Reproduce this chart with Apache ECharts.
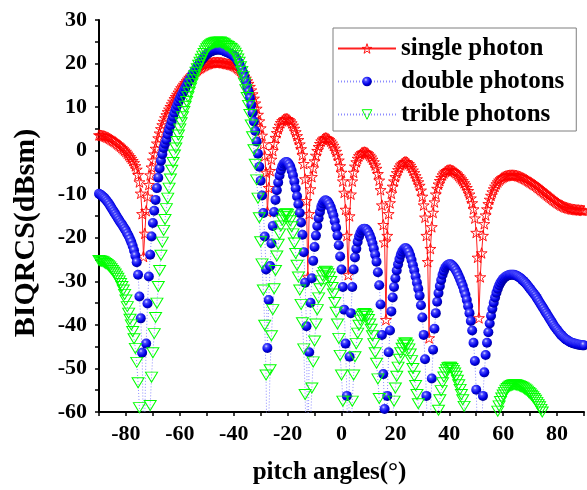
<!DOCTYPE html>
<html>
<head>
<meta charset="utf-8">
<script src="https://cdn.jsdelivr.net/npm/echarts@6/dist/echarts.min.js"></script>
<style>
  html, body { margin: 0; padding: 0; background: #ffffff; }
  #chart { width: 587px; height: 490px; }
</style>
</head>
<body>
<div id="chart"></div>
<script>
// pitch-angle sampling: -90 .. 90 degrees in half-degree steps
const angleStart = -90;
const angleStep = 0.5;

// BIQRCS (dBsm), one row = 5 degrees
const singlePhoton = [
  3.6, 3.55, 3.5, 3.45, 3.35, 3.25, 3.1, 2.95, 2.8, 2.6,
  2.4, 2.2, 2.0, 1.75, 1.5, 1.25, 1.0, 0.7, 0.4, 0.1,
  -0.2, -0.6, -1.0, -1.4, -1.8, -2.3, -2.8, -3.5, -4.3, -5.5,
  -7.2, -9.8, -14.5, -24.3, -19.0, -13.8, -10.5, -7.8, -5.6, -3.8,
  -2.2, -0.8, 0.5, 1.7, 2.9, 4.0, 5.0, 5.9, 6.7, 7.5,
  8.2, 8.9, 9.5, 10.1, 10.7, 11.3, 11.9, 12.4, 12.9, 13.4,
  13.9, 14.4, 14.8, 15.2, 15.6, 16.0, 16.4, 16.8, 17.1, 17.4,
  17.7, 18.0, 18.3, 18.55, 18.8, 19.0, 19.2, 19.4, 19.55, 19.7,
  19.85, 19.95, 20.05, 20.15, 20.2, 20.25, 20.3, 20.3, 20.3, 20.3,
  20.25, 20.2, 20.15, 20.1, 20.0, 19.95, 19.9, 19.8, 19.75, 19.65,
  19.55, 19.4, 19.2, 18.95, 18.7, 18.35, 18.0, 17.6, 17.1, 16.6,
  16.0, 15.4, 14.7, 13.9, 13.0, 12.0, 10.9, 9.7, 8.3, 6.8,
  5.2, 3.5, 1.5, -1.2, -5.0, -14.0, -8.5, -4.6, -2.0, 0.0,
  1.6, 3.0, 4.1, 5.0, 5.8, 6.4, 6.85, 7.15, 7.3, 7.35,
  7.3, 7.1, 6.8, 6.35, 5.8, 5.1, 4.3, 3.4, 2.5, 1.5,
  0.4, -1.0, -3.0, -6.5, -11.5, -29.0, -14.5, -8.8, -6.0, -4.0,
  -2.4, -1.1, 0.0, 0.9, 1.6, 2.2, 2.6, 2.85, 2.95, 2.9,
  2.75, 2.5, 2.15, 1.7, 1.2, 0.55, -0.2, -1.1, -2.2, -3.5,
  -5.0, -7.0, -9.6, -13.5, -19.5, -28.5, -15.0, -10.0, -7.0, -5.0,
  -3.6, -2.6, -1.8, -1.2, -0.8, -0.5, -0.35, -0.3, -0.35, -0.5,
  -0.75, -1.1, -1.5, -2.0, -2.6, -3.3, -4.1, -5.3, -6.8, -9.0,
  -12.5, -17.0, -21.0, -38.8, -19.5, -14.5, -12.0, -9.8, -8.2, -7.0,
  -6.0, -5.1, -4.4, -3.8, -3.3, -2.95, -2.7, -2.55, -2.55, -2.7,
  -3.0, -3.4, -3.9, -4.5, -5.1, -5.8, -6.5, -7.2, -8.0, -9.1,
  -10.5, -12.5, -15.3, -19.5, -25.5, -43.0, -22.5, -17.5, -14.2, -11.8,
  -10.0, -8.7, -7.7, -6.9, -6.2, -5.6, -5.15, -4.8, -4.6, -4.45,
  -4.4, -4.4, -4.5, -4.65, -4.85, -5.1, -5.4, -5.75, -6.1, -6.5,
  -6.9, -7.4, -7.9, -8.5, -9.2, -10.0, -10.9, -12.0, -13.4, -15.5,
  -18.8, -24.5, -38.4, -29.0, -23.5, -19.5, -16.8, -14.8, -13.4, -12.2,
  -11.2, -10.3, -9.5, -8.8, -8.2, -7.65, -7.2, -6.8, -6.5, -6.25,
  -6.05, -5.9, -5.8, -5.7, -5.65, -5.6, -5.6, -5.6, -5.6, -5.65,
  -5.7, -5.8, -5.9, -6.0, -6.15, -6.3, -6.45, -6.6, -6.8, -7.0,
  -7.2, -7.4, -7.6, -7.8, -8.0, -8.25, -8.5, -8.75, -9.0, -9.25,
  -9.5, -9.75, -10.0, -10.25, -10.5, -10.75, -11.0, -11.25, -11.5, -11.7,
  -11.9, -12.1, -12.3, -12.5, -12.65, -12.8, -12.95, -13.05, -13.15, -13.25,
  -13.35, -13.4, -13.45, -13.5, -13.55, -13.6, -13.6, -13.65, -13.65, -13.7,
  -13.7
];

const doublePhotons = [
  -9.9, -10.1, -10.3, -10.6, -10.9, -11.2, -11.6, -12.0, -12.5, -13.0,
  -13.5, -14.0, -14.5, -15.0, -15.5, -16.0, -16.5, -16.9, -17.4, -17.9,
  -18.4, -19.0, -19.6, -20.3, -21.0, -21.9, -22.9, -24.1, -25.6, -28.5,
  -33.5, -38.5, -46.4, -66.0, -61.0, -44.3, -35.1, -28.9, -23.9, -19.7,
  -16.6, -13.8, -11.3, -8.6, -6.2, -4.1, -2.3, -0.8, 0.6, 1.6,
  2.5, 3.7, 4.8, 5.8, 6.8, 7.8, 8.7, 9.6, 10.4, 11.2,
  11.9, 12.6, 13.2, 13.8, 14.4, 15.0, 15.6, 16.2, 16.7, 17.3,
  17.8, 18.3, 18.8, 19.3, 19.8, 20.3, 20.7, 21.1, 21.5, 21.85,
  22.15, 22.4, 22.6, 22.75, 22.9, 23.0, 23.1, 23.2, 23.2, 23.2,
  23.2, 23.1, 23.0, 22.9, 22.7, 22.6, 22.5, 22.3, 22.2, 22.0,
  21.8, 21.5, 21.1, 20.6, 20.1, 19.4, 18.7, 17.9, 16.9, 15.9,
  14.7, 13.5, 12.1, 10.5, 8.7, 6.7, 4.5, 2.1, -0.7, -3.7,
  -6.9, -10.3, -14.3, -19.7, -27.3, -45.3, -34.3, -26.5, -21.3, -17.3,
  -14.1, -11.3, -9.1, -7.3, -5.7, -4.5, -3.6, -3.0, -2.7, -2.6,
  -2.7, -3.1, -3.7, -4.6, -5.7, -7.1, -8.7, -10.5, -12.3, -14.3,
  -16.5, -19.3, -23.3, -30.3, -40.3, -75.3, -46.3, -34.9, -29.3, -25.3,
  -22.1, -19.5, -17.3, -15.5, -14.1, -12.9, -12.1, -11.6, -11.4, -11.5,
  -11.8, -12.3, -13.0, -13.9, -14.9, -16.2, -17.7, -19.5, -21.7, -24.3,
  -27.3, -31.3, -36.5, -44.3, -56.3, -74.3, -47.3, -37.3, -31.3, -27.3,
  -24.5, -22.5, -20.9, -19.7, -18.9, -18.3, -18.0, -17.9, -18.0, -18.3,
  -18.8, -19.5, -20.3, -21.3, -22.5, -23.9, -25.5, -27.9, -30.9, -35.3,
  -42.3, -51.3, -59.3, -94.9, -56.3, -46.3, -41.3, -36.9, -33.7, -31.3,
  -29.3, -27.5, -26.1, -24.9, -23.9, -23.2, -22.7, -22.4, -22.4, -22.7,
  -23.3, -24.1, -25.1, -26.3, -27.5, -28.9, -30.3, -31.7, -33.3, -35.5,
  -38.3, -42.3, -47.9, -56.3, -68.3, -103.3, -62.3, -52.3, -45.7, -40.9,
  -37.3, -34.7, -32.7, -31.1, -29.7, -28.5, -27.6, -26.9, -26.5, -26.2,
  -26.1, -26.1, -26.3, -26.6, -27.0, -27.5, -28.1, -28.8, -29.5, -30.3,
  -31.1, -32.1, -33.1, -34.3, -35.7, -37.3, -39.1, -41.3, -44.1, -48.3,
  -54.9, -66.3, -94.1, -75.3, -64.3, -56.3, -50.9, -46.9, -44.1, -41.7,
  -39.7, -37.9, -36.3, -34.9, -33.7, -32.6, -31.7, -30.9, -30.3, -29.8,
  -29.4, -29.1, -28.9, -28.7, -28.6, -28.5, -28.5, -28.5, -28.5, -28.6,
  -28.7, -28.9, -29.1, -29.3, -29.6, -29.9, -30.2, -30.5, -30.9, -31.3,
  -31.7, -32.1, -32.5, -32.9, -33.3, -33.8, -34.3, -34.8, -35.3, -35.8,
  -36.3, -36.8, -37.3, -37.8, -38.3, -38.8, -39.3, -39.8, -40.3, -40.7,
  -41.1, -41.5, -41.9, -42.3, -42.6, -42.9, -43.2, -43.4, -43.6, -43.8,
  -44.0, -44.1, -44.2, -44.3, -44.4, -44.5, -44.5, -44.6, -44.6, -44.7,
  -44.7
];

const triblePhotons = [
  -25.2, -25.3, -25.4, -25.5, -25.7, -25.9, -26.1, -26.4, -26.7, -27.1,
  -27.5, -27.9, -28.3, -28.8, -29.3, -29.9, -30.5, -31.2, -32.0, -33.0,
  -34.3, -35.8, -37.3, -38.7, -40.0, -41.5, -43.2, -45.4, -48.6, -53.3,
  -59.0, -66.0, -79.0, -108.0, -92.0, -78.0, -70.0, -64.0, -58.5, -52.0,
  -46.4, -42.0, -38.3, -35.0, -31.2, -27.5, -24.0, -21.0, -18.3, -15.8,
  -13.3, -10.9, -8.6, -6.5, -4.5, -2.7, -1.0, 0.6, 2.1, 3.6,
  5.0, 6.4, 7.8, 9.0, 10.2, 11.3, 12.4, 13.4, 14.4, 15.4,
  16.3, 17.2, 18.0, 18.8, 19.6, 20.3, 21.0, 21.7, 22.3, 22.9,
  23.4, 23.8, 24.1, 24.35, 24.55, 24.7, 24.8, 24.9, 24.9, 24.9,
  24.95, 24.8, 24.65, 24.5, 24.2, 24.05, 23.9, 23.6, 23.45, 23.15,
  22.85, 22.4, 21.8, 21.05, 20.3, 19.25, 18.2, 17.0, 15.5, 14.0,
  12.2, 10.4, 8.3, 5.9, 3.2, 0.2, -3.1, -6.7, -10.9, -15.4,
  -20.9, -26.0, -32.0, -40.1, -51.5, -78.5, -62.0, -50.3, -42.5, -36.5,
  -31.7, -27.5, -24.2, -21.5, -19.1, -17.3, -15.95, -15.05, -14.6, -14.45,
  -14.6, -15.2, -16.1, -17.45, -19.1, -21.2, -23.6, -26.3, -29.0, -32.0,
  -35.3, -39.5, -45.5, -56.0, -71.0, -123.5, -80.0, -62.9, -54.5, -48.5,
  -43.7, -39.8, -36.5, -33.8, -31.7, -29.9, -28.7, -27.95, -27.65, -27.8,
  -28.25, -29.0, -30.05, -31.4, -32.9, -34.85, -37.1, -39.8, -43.1, -47.0,
  -51.5, -57.5, -65.3, -77.0, -95.0, -122.0, -81.5, -66.5, -57.5, -51.5,
  -47.3, -44.3, -41.9, -40.1, -38.9, -38.0, -37.55, -37.4, -37.55, -38.0,
  -38.75, -39.8, -41.0, -42.5, -44.3, -46.4, -48.8, -52.4, -56.9, -63.5,
  -74.0, -87.5, -99.5, -152.9, -95.0, -80.0, -72.5, -65.9, -61.1, -57.5,
  -54.5, -51.8, -49.7, -47.9, -46.4, -45.35, -44.6, -44.15, -44.15, -44.6,
  -45.5, -46.7, -48.2, -50.0, -51.8, -53.9, -56.0, -58.1, -60.5, -63.8,
  -68.0, -74.0, -82.4, -95.0, -113.0, -165.5, -104.0, -89.0, -79.1, -71.9,
  -66.5, -62.6, -59.6, -57.2, -55.1, -53.3, -51.95, -50.9, -50.3, -49.85,
  -49.7, -49.7, -50.0, -50.45, -51.05, -51.8, -52.7, -53.75, -54.8, -56.0,
  -57.2, -58.7, -60.2, -62.0, -64.1, -66.5, -69.2, -72.5, -76.7, -83.0,
  -92.9, -110.0, -151.7, -123.5, -107.0, -95.0, -86.9, -80.9, -76.7, -73.1,
  -70.0, -67.5, -65.3, -63.5, -62.0, -60.8, -59.8, -58.6, -57.6, -56.8,
  -56.1, -55.5, -55.0, -54.6, -54.3, -54.1, -53.9, -53.8, -53.75, -53.75,
  -53.8, -53.9, -54.0, -54.15, -54.3, -54.5, -54.7, -54.95, -55.2, -55.5,
  -55.8, -56.15, -56.5, -56.9, -57.3, -57.8, -58.3, -58.8, -59.4, -60.0,
  -60.6, -61.2, -61.8, -62.4, -63.0, -63.6, -64.2, -64.8, -65.4, -66.0,
  -66.6, -67.2, -67.8, -68.4, -69.0, -69.5, -70.0, -70.5, -71.0, -71.4,
  -71.8, -72.2, -72.6, -73.0, -73.3, -73.6, -73.9, -74.2, -74.4, -74.6,
  -74.8
];

const seriesNames = ['single photon', 'double photons', 'trible photons'];
const xLabelStep = 20;   // labelled ticks every 20 degrees, plain ticks every 10

const toPoints = (values) => values.map((v, i) => [angleStart + i * angleStep, v]);

const serif = 'Liberation Serif, Times New Roman, serif';
const starPath = 'path://M50,0 L61.8,35.1 L97.6,35.1 L68.5,56.7 L79.4,91 L50,70 L20.6,91 L31.5,56.7 L2.4,35.1 L38.2,35.1 Z';
const downTriangle = 'path://M0,0 L20,0 L10,17 Z';

const hollowStar = { color: 'rgba(255,255,255,0)', borderColor: '#ff0000', borderWidth: 0.9 };
const hollowTriangle = { color: 'rgba(255,255,255,0)', borderColor: '#00ff00', borderWidth: 1 };
const shadedBall = {
  color: {
    type: 'radial', x: 0.38, y: 0.32, r: 0.68,
    colorStops: [
      { offset: 0, color: '#d8d8ff' },
      { offset: 0.25, color: '#4848ff' },
      { offset: 0.7, color: '#0000e6' },
      { offset: 1, color: '#00009a' }
    ]
  },
  borderWidth: 0
};

const chart = echarts.init(document.getElementById('chart'), null, { renderer: 'canvas' });

chart.setOption({
  animation: false,
  backgroundColor: '#ffffff',
  grid: { left: 99, right: 0, top: 20, bottom: 77, containLabel: false },
  legend: {
    orient: 'vertical',
    left: 333,
    top: 28,
    padding: [8, 12, 4, 4],
    itemGap: 8,
    itemWidth: 58,
    itemHeight: 12,
    borderColor: '#7f7f7f',
    borderWidth: 1,
    backgroundColor: '#ffffff',
    textStyle: { fontFamily: serif, fontWeight: 'bold', fontSize: 25, color: '#000', lineHeight: 24 },
    data: [
      { name: seriesNames[0], itemStyle: hollowStar },
      { name: seriesNames[1], itemStyle: shadedBall },
      { name: seriesNames[2], itemStyle: hollowTriangle }
    ]
  },
  xAxis: {
    type: 'value',
    min: -90,
    max: 90,
    interval: 10,
    name: 'pitch angles(°)',
    nameLocation: 'middle',
    nameGap: 48,
    nameTextStyle: { fontFamily: serif, fontWeight: 'bold', fontSize: 25, color: '#000', padding: [0, 24, 0, 0] },
    axisLine: { onZero: false, lineStyle: { color: '#000', width: 2 } },
    axisTick: { show: true, inside: false, length: 4, lineStyle: { color: '#000', width: 1.5 } },
    axisLabel: {
      margin: 11,
      fontFamily: serif, fontWeight: 'bold', fontSize: 22, color: '#000',
      formatter: (v) => (v % xLabelStep === 0 ? String(v) : '')
    },
    splitLine: { show: false }
  },
  yAxis: {
    type: 'value',
    min: -60,
    max: 30,
    interval: 10,
    name: 'BIQRCS(dBsm)',
    nameLocation: 'middle',
    nameGap: 58,
    nameTextStyle: { fontFamily: serif, fontWeight: 'bold', fontSize: 30, color: '#000', padding: [0, 34, 0, 0] },
    axisLine: { onZero: false, lineStyle: { color: '#000', width: 2 } },
    axisTick: { show: true, inside: false, length: 4, lineStyle: { color: '#000', width: 1.5 } },
    minorTick: { show: true, splitNumber: 2, length: 4, lineStyle: { color: '#000', width: 1.5 } },
    axisLabel: { margin: 12, fontFamily: serif, fontWeight: 'bold', fontSize: 22, color: '#000' },
    splitLine: { show: false }
  },
  series: [
    {
      name: seriesNames[0],
      type: 'line',
      data: toPoints(singlePhoton),
      showAllSymbol: true,
      symbol: starPath,
      symbolSize: 11,
      symbolKeepAspect: true,
      clip: true,
      lineStyle: { color: '#ff2020', width: 1 },
      itemStyle: hollowStar,
      emphasis: { disabled: true }
    },
    {
      name: seriesNames[1],
      type: 'line',
      data: toPoints(doublePhotons),
      showAllSymbol: true,
      symbol: 'circle',
      symbolSize: 10,
      clip: true,
      lineStyle: { color: '#8c8cff', width: 1, type: [1, 2] },
      itemStyle: shadedBall,
      emphasis: { disabled: true }
    },
    {
      name: seriesNames[2],
      type: 'line',
      data: toPoints(triblePhotons),
      showAllSymbol: true,
      symbol: downTriangle,
      symbolSize: [12, 10],
      clip: true,
      lineStyle: { color: '#8c8cff', width: 1, type: [1, 2] },
      itemStyle: hollowTriangle,
      emphasis: { disabled: true }
    }
  ]
});
</script>
</body>
</html>
